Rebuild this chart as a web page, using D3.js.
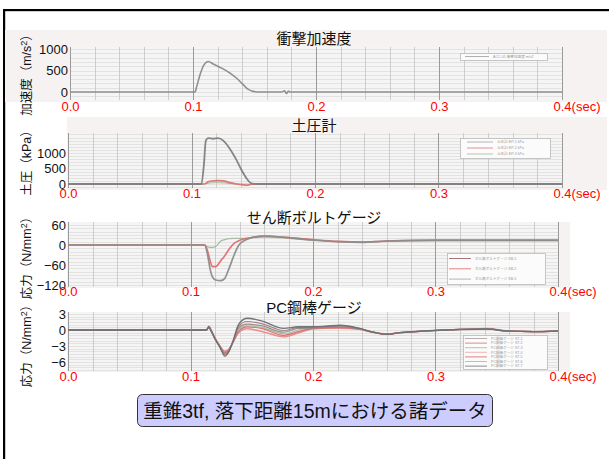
<!DOCTYPE html>
<html>
<head>
<meta charset="utf-8">
<script src="https://cdn.jsdelivr.net/npm/d3@7"></script>
<style>
  body { margin: 0; background: #fff; }
  svg { display: block; }
  text { font-family: "Liberation Sans", Arial, "Noto Sans CJK JP", sans-serif; }
</style>
</head>
<body>
<svg id="chart" width="609" height="459"></svg>
<script>
// ---- time axis ----
const timeTicks = [0, 0.1, 0.2, 0.3, 0.4];
const timeTickLabels = ["0.0", "0.1", "0.2", "0.3", "0.4(sec)"];
const panelTitles = ["衝撃加速度", "土圧計", "せん断ボルトゲージ", "PC鋼棒ゲージ"];
const captionText = "重錐3tf, 落下距離15mにおける諸データ";

// ---- impact acceleration (m/s2) ----
const accTicks = [0, 500, 1000];
const accTime   = [0, 0.05, 0.1016, 0.103, 0.1057, 0.1089, 0.1124, 0.1165, 0.1233, 0.1301, 0.1355, 0.141, 0.145, 0.149, 0.155, 0.172, 0.1745, 0.176, 0.1775, 0.179, 0.19, 0.25, 0.3, 0.35, 0.4];
const accValues = [0, 0, 0, 125, 400, 630, 710, 650, 555, 440, 320, 165, 60, 15, 0, 0, 30, -35, 20, 0, 0, 0, 0, 0, 0];
const accLegend = ["ACC-01  衝撃加速度  m/s2"];

// ---- earth pressure (kPa) ----
const soilTicks = [0, 500, 1000];
const soilTime  = [0, 0.05, 0.108, 0.110, 0.1116, 0.1135, 0.1176, 0.1216, 0.1257, 0.131, 0.1365, 0.1405, 0.1446, 0.1486, 0.1527, 0.2, 0.3, 0.4];
const soilGray  = [0, 0, 0, 600, 1400, 1480, 1460, 1480, 1400, 1140, 770, 450, 180, 20, 0, 0, 0, 0];
const soilRed   = [0, 0, 0, 0, 20, 75, 100, 110, 100, 45, 0, -20, -40, -10, 0, 0, 0, 0];
const soilGreen = [0, 0, 0, 0, 10, 30, 40, 40, 35, 20, 5, 0, 0, 0, 0, 0, 0, 0];
const soilLegend = ["土圧計 EP-1  kPa", "土圧計 EP-2  kPa", "土圧計 EP-3  kPa"];

// ---- shear bolt gauges (N/mm2) ----
const boltTicks = [60, 0, -60, -120];
const boltTime  = [0, 0.05, 0.1115, 0.1137, 0.1159, 0.1178, 0.1205, 0.1247, 0.128, 0.1315, 0.1356, 0.139, 0.1425, 0.148, 0.16, 0.18, 0.2, 0.22, 0.24, 0.26, 0.3, 0.35, 0.4];
const boltGray  = [0, 0, 0, -25, -70, -95, -105, -107, -100, -70, -30, -3, 10, 20, 27, 22, 15, 10, 8, 12, 14, 14, 14];
const boltRed   = [0, 0, 0, -15, -45, -65, -65, -47, -32, -13, 5, 12, 17, 21, 27, 22, 16, 11, 9, 12, 15, 15, 15];
const boltGreen = [0, 0, 0, -5, -7, -7, -5, 12, 16, 19, 20, 20, 20, 21, 24, 20, 14, 10, 8, 11, 13, 13, 13];
const boltLegend = ["せん断ボルトゲージ SB-1", "せん断ボルトゲージ SB-2", "せん断ボルトゲージ SB-3"];

// ---- PC bar gauges (N/mm2) ----
const pcTicks = [3, 0, -3, -6];
const pcTime = [0, 0.113, 0.115, 0.117, 0.120, 0.124, 0.128, 0.131, 0.135, 0.139, 0.146, 0.158, 0.176, 0.188, 0.200, 0.210, 0.222, 0.238, 0.247, 0.260, 0.271, 0.298, 0.320, 0.342, 0.358, 0.380, 0.400];
const pcST1 = [0, 0, 0.6, -0.2, -1.6, -3.2, -4.9, -4.2, -1.9, 0.9, 2.2, 1.7, 0.3, 0.6, 0.6, 0.7, 0.9, 0.3, -0.3, -0.8, -0.5, -0.1, 0.1, 0.2, -0.2, -0.3, -0.2];
const pcST2 = [0, 0, 0.5, -0.3, -1.7, -3.1, -4.5, -4.0, -2.0, 0.3, 1.1, 0.8, -0.4, 0.3, 0.4, 0.5, 0.6, 0.2, -0.3, -0.8, -0.5, -0.1, 0.1, 0.2, -0.2, -0.3, -0.2];
const pcST3 = [0, 0, 0.6, -0.2, -1.6, -3.1, -4.3, -3.9, -2.0, 0.1, 0.8, 0.5, -0.7, 0.0, 0.4, 0.5, 0.6, 0.2, -0.3, -0.8, -0.5, -0.1, 0.1, 0.2, -0.2, -0.3, -0.2];
const pcST4 = [0, 0, 0.8, 0.0, -1.4, -2.9, -3.9, -3.6, -2.3, -0.5, 0.3, -0.2, -1.2, -0.5, 0.2, 0.3, 0.4, 0.1, -0.4, -0.8, -0.5, -0.1, 0.1, 0.2, -0.2, -0.3, -0.2];
const pcST5 = [0, 0, 0.6, -0.2, -1.6, -3.1, -4.2, -3.8, -2.1, -0.3, 0.6, 0.3, -1.0, -0.3, 0.3, 0.4, 0.5, 0.2, -0.3, -0.8, -0.5, -0.1, 0.1, 0.2, -0.2, -0.3, -0.2];
const pcST6 = [0, 0, 0.7, -0.1, -1.5, -3.0, -4.0, -3.7, -2.2, -0.6, 0.2, -0.3, -1.3, -0.6, 0.2, 0.3, 0.3, 0.1, -0.3, -0.7, -0.5, -0.1, 0.1, 0.3, -0.1, -0.3, -0.2];
const pcST7 = [0, 0, 0.5, -0.3, -1.7, -3.2, -4.6, -4.1, -1.9, 0.6, 1.6, 1.2, -0.1, 0.5, 0.5, 0.6, 0.8, 0.3, -0.3, -0.8, -0.5, -0.1, 0.1, 0.2, -0.2, -0.3, -0.2];
const pcLegend = ["PC鋼棒ゲージ ST-1", "PC鋼棒ゲージ ST-2", "PC鋼棒ゲージ ST-3", "PC鋼棒ゲージ ST-4", "PC鋼棒ゲージ ST-5", "PC鋼棒ゲージ ST-6", "PC鋼棒ゲージ ST-7"];

// ---- layout of the four stacked panels ----
const panels = [
  {
    title: panelTitles[0], titleY: 44,
    yTitle: ["加速度（m/s", "2", "）"], yTitleY: 72,
    x0: 70, x1: 562, top: 47, bottom: 100,
    yDom: [0, 1000], yPix: [92, 49], gridStep: 100, ticks: accTicks,
    xLabelY: 112, bg: [5, 30, 602, 72],
    series: [{ t: accTime, v: accValues, color: "#8a8a8a", w: 1.6 }],
    legend: { x: 460, y: 53, w: 87, h: 7, rowY: 56.5, step: 0, lx0: 465, lx1: 489, tx: 493,
              items: [{ label: accLegend[0], color: "#b0b0b0" }] }
  },
  {
    title: panelTitles[1], titleY: 131,
    yTitle: ["土圧（kPa）"], yTitleY: 160,
    x0: 68, x1: 562, top: 133, bottom: 188,
    yDom: [0, 1000], yPix: [184, 153], gridStep: 100, ticks: soilTicks,
    xLabelY: 199, bg: [67, 117, 540, 73],
    series: [
      { t: soilTime, v: soilGreen, color: "#9fbf9f", w: 1.2 },
      { t: soilTime, v: soilRed, color: "#e07070", w: 1.6 },
      { t: soilTime, v: soilGray, color: "#7f7f7f", w: 1.8 }
    ],
    legend: { x: 460, y: 138, w: 90, h: 20, rowY: 142, step: 6, lx0: 467, lx1: 493, tx: 497,
              items: [{ label: soilLegend[0], color: "#b4b4b4" }, { label: soilLegend[1], color: "#e89090" },
                      { label: soilLegend[2], color: "#b0c8b0" }] }
  },
  {
    title: panelTitles[2], titleY: 223,
    yTitle: ["応力（N/mm", "2", "）"], yTitleY: 255,
    x0: 68, x1: 558, top: 222, bottom: 287,
    yDom: [0, 60], yPix: [245, 225], gridStep: 10, ticks: boltTicks,
    xLabelY: 297, bg: [67, 222, 503, 66],
    series: [
      { t: boltTime, v: boltGreen, color: "#a3b89f", w: 1.3 },
      { t: boltTime, v: boltRed, color: "#e46a6a", w: 1.6 },
      { t: boltTime, v: boltGray, color: "#8c8c8c", w: 1.7 }
    ],
    legend: { x: 447, y: 253, w: 98, h: 31, rowY: 258.5, step: 10.3, lx0: 449, lx1: 471, tx: 475,
              items: [{ label: boltLegend[0], color: "#a07a7a" }, { label: boltLegend[1], color: "#e48080" },
                      { label: boltLegend[2], color: "#b0baa8" }] }
  },
  {
    title: panelTitles[3], titleY: 313,
    yTitle: ["応力（N/mm", "2", "）"], yTitleY: 343,
    x0: 68, x1: 558, top: 312, bottom: 371,
    yDom: [0, 3], yPix: [330, 314], gridStep: 0.5, ticks: pcTicks,
    xLabelY: 382, bg: [67, 312, 503, 60],
    series: [
      { t: pcTime, v: pcST3, color: "#9fc09f", w: 1.1 },
      { t: pcTime, v: pcST4, color: "#f0b0b0", w: 1.2 },
      { t: pcTime, v: pcST6, color: "#e88a8a", w: 1.3 },
      { t: pcTime, v: pcST5, color: "#d86a6a", w: 1.2 },
      { t: pcTime, v: pcST2, color: "#8c8c8c", w: 1.3 },
      { t: pcTime, v: pcST7, color: "#a07a80", w: 1.1 },
      { t: pcTime, v: pcST1, color: "#6e6e72", w: 1.4 }
    ],
    legend: { x: 463, y: 335, w: 84, h: 34, rowY: 338.5, step: 4.6, lx0: 465, lx1: 487, tx: 491,
              items: [{ label: pcLegend[0], color: "#b0b0b0" }, { label: pcLegend[1], color: "#e48888" },
                      { label: pcLegend[2], color: "#a8c8a8" }, { label: pcLegend[3], color: "#f0b8b8" },
                      { label: pcLegend[4], color: "#e08080" }, { label: pcLegend[5], color: "#eaa8b0" },
                      { label: pcLegend[6], color: "#8a8a8a" }] }
  }
];

const svg = d3.select("#chart");

// slide frame (top and left edges)
svg.append("rect").attr("x", 3).attr("y", 9).attr("width", 620).attr("height", 2.2).attr("fill", "#000");
svg.append("rect").attr("x", 3).attr("y", 9).attr("width", 2.2).attr("height", 460).attr("fill", "#000");

panels.forEach(p => {
  const g = svg.append("g");
  const x = d3.scaleLinear().domain([0, 0.4]).range([p.x0, p.x1]);
  const y = d3.scaleLinear().domain(p.yDom).range(p.yPix);

  // soft background of the recorder sheet
  g.append("rect").attr("x", p.bg[0]).attr("y", p.bg[1]).attr("width", p.bg[2]).attr("height", p.bg[3])
    .attr("fill", "#f7f2f2");
  g.append("rect").attr("x", p.x0).attr("y", p.top).attr("width", p.x1 - p.x0).attr("height", p.bottom - p.top)
    .attr("fill", "#f6f5f5");

  // dense horizontal grid
  const yLo = y.invert(p.bottom), yHi = y.invert(p.top);
  const hVals = d3.range(Math.ceil(yLo / p.gridStep) * p.gridStep, yHi, p.gridStep);
  g.selectAll(".hg").data(hVals).join("line")
    .attr("x1", p.x0).attr("x2", p.x1)
    .attr("y1", d => Math.round(y(d)) + 0.5).attr("y2", d => Math.round(y(d)) + 0.5)
    .attr("stroke", "#dcd8d8").attr("stroke-width", 0.7);

  // vertical grid: minor every 0.02 s, major every 0.1 s
  const vVals = d3.range(0, 0.4001, 0.02);
  g.selectAll(".vg").data(vVals).join("line")
    .attr("x1", d => Math.round(x(d)) + 0.5).attr("x2", d => Math.round(x(d)) + 0.5)
    .attr("y1", p.top).attr("y2", p.bottom)
    .attr("stroke", (d, i) => i % 5 === 0 ? "#9a9a9a" : "#c4c4c4")
    .attr("stroke-width", (d, i) => i % 5 === 0 ? 1 : 0.8);

  // legend box
  const L = p.legend;
  g.append("rect").attr("x", L.x + 0.5).attr("y", L.y + 0.5).attr("width", L.w).attr("height", L.h)
    .attr("fill", "#fbfbfb").attr("stroke", "#b8b8b8").attr("stroke-width", 0.8);
  L.items.forEach((it, i) => {
    const ry = L.rowY + i * L.step;
    g.append("line").attr("x1", L.lx0).attr("x2", L.lx1).attr("y1", ry).attr("y2", ry)
      .attr("stroke", it.color).attr("stroke-width", 1);
    g.append("text").attr("x", L.tx).attr("y", ry + 1.3).attr("font-size", 3.6).attr("fill", "#9a9a9a")
      .text(it.label);
  });

  // data traces
  const line = d3.line().x(d => x(d[0])).y(d => y(d[1])).curve(d3.curveMonotoneX);
  p.series.forEach(s => {
    g.append("path").datum(s.t.map((t, i) => [t, s.v[i]]))
      .attr("d", line).attr("fill", "none")
      .attr("stroke", s.color).attr("stroke-width", s.w)
      .attr("stroke-linejoin", "round").attr("opacity", 0.95);
  });

  // panel title
  g.append("text").attr("x", 314).attr("y", p.titleY).attr("text-anchor", "middle")
    .attr("font-size", 15).attr("fill", "#111").text(p.title);

  // y tick labels
  const yAxis = d3.axisLeft(y).tickValues(p.ticks).tickSize(0).tickPadding(0).tickFormat(d3.format("d"));
  const ya = g.append("g").attr("transform", `translate(${p.x0 - 2},0)`).call(yAxis);
  ya.select(".domain").remove();
  ya.selectAll("text").attr("font-size", 13).attr("fill", "#111")
    .attr("font-family", "'Liberation Sans', Arial, sans-serif");

  // x tick labels (red)
  const xAxis = d3.axisBottom(x).tickValues(timeTicks).tickSize(0).tickPadding(0)
    .tickFormat((d, i) => timeTickLabels[i]);
  const xa = g.append("g").attr("transform", `translate(0,${p.xLabelY - 10})`).call(xAxis);
  xa.select(".domain").remove();
  xa.selectAll("text").attr("font-size", 13).attr("fill", "#ff0000")
    .attr("font-family", "'Liberation Sans', Arial, sans-serif")
    .filter((d, i) => i === timeTicks.length - 1)
    .attr("text-anchor", "start").attr("dx", -9);

  // rotated y-axis title
  const yt = g.append("text").attr("transform", `translate(31,${p.yTitleY}) rotate(-90)`)
    .attr("text-anchor", "middle").attr("font-size", 12.5).attr("fill", "#111");
  yt.append("tspan").text(p.yTitle[0]);
  if (p.yTitle.length > 1) {
    yt.append("tspan").attr("dy", -4).attr("font-size", 9).text(p.yTitle[1]);
    yt.append("tspan").attr("dy", 4).text(p.yTitle[2]);
  }
});

// caption box
svg.append("rect").attr("x", 137.5).attr("y", 394.5).attr("width", 355).attr("height", 32).attr("rx", 5)
  .attr("fill", "#ccccff").attr("stroke", "#333").attr("stroke-width", 1);
svg.append("text").attr("x", 315).attr("y", 417.5).attr("text-anchor", "middle")
  .attr("font-size", 19.5).attr("fill", "#111").text(captionText);
</script>
</body>
</html>
